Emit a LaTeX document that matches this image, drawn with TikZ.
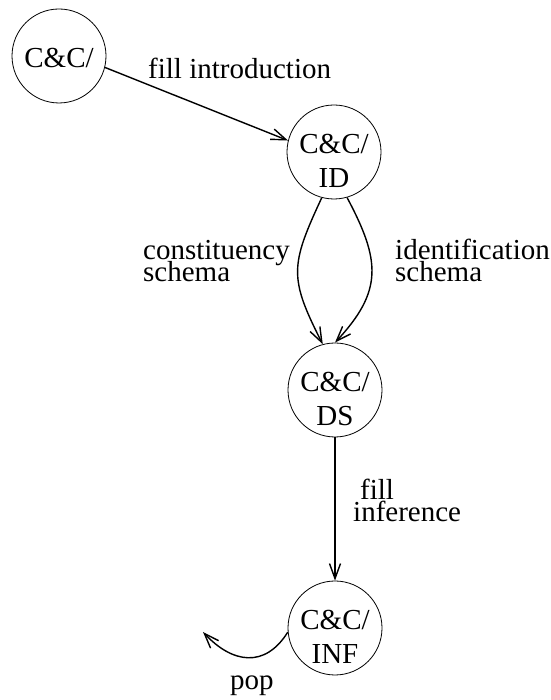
\documentclass[tikz,border=0pt]{standalone}
\usepackage{fontspec}
\setmainfont{Liberation Serif}
\usetikzlibrary{arrows.meta}

% state label: first line's baseline sits just below the circle centre
\newcommand\statetwo[2]{\raisebox{-2pt}[0pt][0pt]{\begin{tabular}[t]{@{}c@{}}#1\\#2\end{tabular}}}
\newcommand\stateone[1]{\raisebox{-12pt}[0pt][0pt]{#1}}
% tightly set two-line edge label, baseline at the first line
\newcommand\edgetwo[2]{\begin{tabular}[t]{@{}l@{}}#1\\[-12pt]#2\end{tabular}}

\begin{document}
\begin{tikzpicture}[x=1pt,y=1pt,
  every node/.style={font=\fontsize{29}{34}\selectfont},
  state/.style={draw, circle, minimum size=94pt, inner sep=0pt, line width=0.8pt},
  elabel/.style={anchor=base west, inner sep=0pt},
  trans/.style={line width=1.4pt, -{Straight Barb[length=15pt,width=11pt,line width=1.4pt]}}]
\useasboundingbox (0,0) rectangle (550,700);

% states
\node[state] (A)   at (59,644) {\stateone{C\&C/}};
\node[state] (ID)  at (334,548) {\statetwo{C\&C/}{ID}};
\node[state] (DS)  at (335,310) {\statetwo{C\&C/}{DS}};
\node[state] (INF) at (335,72)  {\statetwo{C\&C/}{INF}};
\coordinate (popend) at (203,68);

% transitions
\draw[trans] (A.-14) -- (ID.166);
\draw[trans] (ID.-105) to[out=245, in=117, looseness=1.3] (DS.105);
\draw[trans] (ID.-74) to[out=-62, in=47, looseness=1.25] (DS.90);
\draw[trans] (DS.south) -- (INF.north);
\draw[trans] (INF.185) to[out=238, in=-47, looseness=1.3] (popend);

% transition labels
\node[elabel] (lintro) at (148,621) {fill introduction};
\node[elabel] (lconst) at (143,440) {\edgetwo{constituency}{schema}};
\node[elabel] (lident) at (395,440) {\edgetwo{identification}{schema}};
\node[elabel] (linf)   at (353,200) {\edgetwo{\hspace*{7pt}fill}{inference}};
\node[elabel] (lpop)   at (230,10)  {pop};
\end{tikzpicture}
\end{document}
